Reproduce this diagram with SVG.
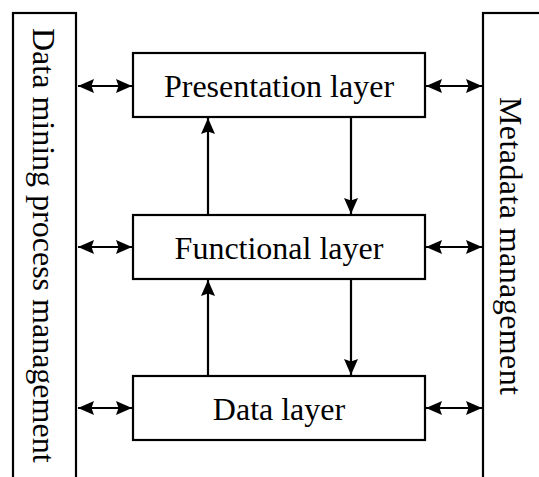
<svg xmlns="http://www.w3.org/2000/svg" width="539" height="477" viewBox="0 0 539 477">
<defs>
<style>
.box{fill:#fff;stroke:#000;stroke-width:2.2}
.t{font-family:"Liberation Serif","Times New Roman",serif;font-size:32px;fill:#000}
.c{stroke:#000;stroke-width:2.2;fill:none}
</style>
<marker id="ah" viewBox="0 0 16 14" refX="16" refY="7" markerWidth="16" markerHeight="14" markerUnits="userSpaceOnUse" orient="auto-start-reverse">
<path d="M0,0 L16,7 L0,14 L2.5,7 Z" fill="#000"/>
</marker>
</defs>
<g id="dmpm">
<rect class="box" x="13" y="13" width="63" height="480"/>
<text class="t" transform="translate(33,28) rotate(90)">Data mining process management</text>
</g>
<g id="mm">
<rect class="box" x="483" y="13" width="80" height="480"/>
<text class="t" transform="translate(500,97) rotate(90)" textLength="298" lengthAdjust="spacing">Metadata management</text>
</g>
<g id="presentation">
<rect class="box" x="133" y="53" width="292" height="64"/>
<text class="t" x="279" y="97" text-anchor="middle">Presentation layer</text>
</g>
<g id="functional">
<rect class="box" x="133" y="215" width="292" height="64"/>
<text class="t" x="279" y="259" text-anchor="middle">Functional layer</text>
</g>
<g id="data">
<rect class="box" x="133" y="376" width="292" height="64"/>
<text class="t" x="279" y="420" text-anchor="middle">Data layer</text>
</g>
<g id="connectors">
<line class="c" x1="78" y1="86" x2="132" y2="86" marker-start="url(#ah)" marker-end="url(#ah)"/>
<line class="c" x1="426" y1="86" x2="482" y2="86" marker-start="url(#ah)" marker-end="url(#ah)"/>
<line class="c" x1="78" y1="247" x2="132" y2="247" marker-start="url(#ah)" marker-end="url(#ah)"/>
<line class="c" x1="426" y1="247" x2="482" y2="247" marker-start="url(#ah)" marker-end="url(#ah)"/>
<line class="c" x1="78" y1="408" x2="132" y2="408" marker-start="url(#ah)" marker-end="url(#ah)"/>
<line class="c" x1="426" y1="408" x2="482" y2="408" marker-start="url(#ah)" marker-end="url(#ah)"/>
<line class="c" x1="208" y1="214" x2="208" y2="118" marker-end="url(#ah)"/>
<line class="c" x1="351" y1="118" x2="351" y2="214" marker-end="url(#ah)"/>
<line class="c" x1="208" y1="375" x2="208" y2="280" marker-end="url(#ah)"/>
<line class="c" x1="351" y1="280" x2="351" y2="375" marker-end="url(#ah)"/>
</g>
</svg>
